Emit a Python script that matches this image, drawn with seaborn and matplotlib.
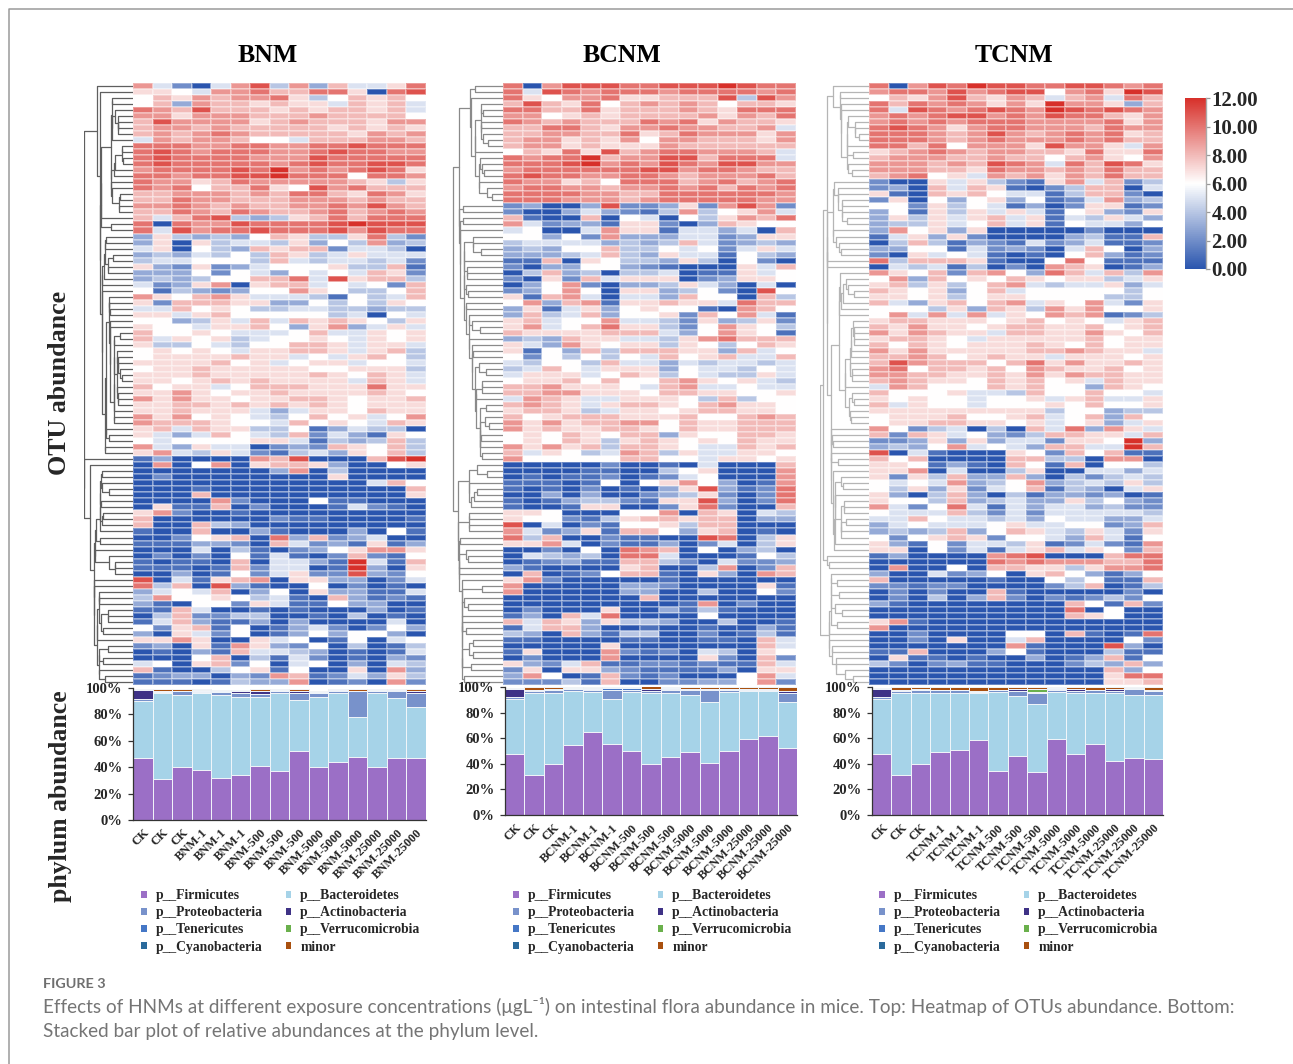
import numpy as np
import pandas as pd
import matplotlib
matplotlib.use('Agg')
import matplotlib.pyplot as plt
from matplotlib.colors import LinearSegmentedColormap
from matplotlib.lines import Line2D
from matplotlib.patches import Patch
import seaborn as sns

sns.set_style('white')
serif = ['Liberation Serif', 'DejaVu Serif']
plt.rcParams['font.family'] = serif

# heatmap cells, one hex digit per cell, 0 to c = abundance 0 to 12
bnm_rows = [
    "95205 9b493 8557a", "77659 9a88a a70ab", "68798 99a74 68786", "68398 87877 58785", "a98b8 88787 88785",
    "99799 98889 88886", "8b999 97898 88799", "89989 88888 78787", "8989a 98888 87989", "59899 86658 88998",
    "aaa99 aa99a abaaa", "aba9a aa99a baa99", "abaaa a999b aaaaa", "abaaa aa9ab aabba", "9aaaa bac9a 9aba7",
    "aa9aa bbcaa a6aa9", "a9978 a9999 98747", "a9a68 8a76b 9a888", "88999 898aa 87a97", "88a99 88899 98988",
    "99a98 98899 a9b98", "88a98 a9889 a89a9", "858ab 43478 a8aaa", "a0a99 baaaa bcbbb", "a5b9a abaaa b9baa",
    "37434 36874 47a42", "37074 55473 64934", "57064 38788 25540", "34354 64874 57555", "45566 64854 55452",
    "73272 35666 74481", "33362 65365 65872", "34346 688a5 b7884", "52379 07885 65628", "61432 36697 64468",
    "97689 75554 16458", "72888 77336 46476", "55867 64455 44344", "77578 66666 45065", "66347 58587 87647",
    "76657 78637 93575", "86676 55568 55767", "85767 45667 65767", "74465 46688 75775", "67676 57788 75784",
    "67777 87756 57864", "77778 67567 75665", "67787 77776 67774", "77787 77778 76875", "77678 78777 75875",
    "86775 68887 77a77", "77976 77877 77876", "97977 67788 76778", "77887 87878 76777", "77877 75357 76877",
    "97967 65468 67569", "98887 66586 76587", "78587 74461 35440", "75358 65482 53176", "65666 67751 43484",
    "95375 50232 87684", "79547 52145 37684", "13000 098b0 008bc", "09069 07887 30067", "00000 00390 40000",
    "02000 00000 70000", "00000 00000 00586", "00010 00000 00008", "00080 00000 00007", "00009 20006 11000",
    "07118 02000 15210", "79200 10000 00000", "80000 00211 00001", "80084 30000 00000", "10080 03100 03061",
    "00267 80a38 23500", "11133 20852 31713", "00050 41023 67997", "02020 61510 28216", "10110 80553 1c518",
    "11101 82550 1c307", "00301 62572 2b326", "b0517 89077 33025", "a480b 31006 02010", "35658 03607 33115",
    "49667 64510 83121", "31066 27511 63300", "11850 01010 00301", "04822 44001 04010", "15831 13030 00050",
    "62781 60135 20263", "30752 60136 36630", "77970 07560 16056", "23071 97326 04014", "01031 85543 01015",
    "00068 04152 01032", "56078 26056 03054", "81004 67160 07093", "12330 32981 25374", "11101 43390 12092",
]
bcnm_rows = [
    "a09bb baabb bcbaa", "a5ba9 aaa9a aaa9a", "a7699 a7788 8b4b9", "8b87a 68989 86887", "aa88a 78889 87aaa",
    "99678 78888 9798a", "a9898 88a9a 79887", "88aa8 799a9 98895", "88998 8a78a 99979", "89978 79699 88879",
    "89978 77798 88888", "687a7 b89aa 99985", "a9aac 899bb 8aaa5", "aaabc 9a9ba 9bb99", "9aaaa aabb9 aa988",
    "abaa9 9aa98 999a8", "a9978 6aaa8 9a89a", "9aa99 899a9 a8a9a", "aaaa9 988aa aaaa9", "aaa99 989aa aaa99",
    "23003 b2237 29b92", "20035 32149 46795", "81008 06506 4798a", "95233 17720 38766", "56005 97715 53508",
    "66362 93335 52377", "45555 34348 52343", "34366 84465 62575", "33345 84375 51643", "11807 64437 40620",
    "20336 63210 00758", "04834 04450 11756", "20728 57770 23776", "03692 03347 53050", "23696 07734 620b6",
    "71895 05538 66084", "69389 17787 75a88", "37157 36766 10986", "38458 36672 86951", "78566 95542 73472",
    "79568 a7742 69764", "87777 88853 69761", "34387 75547 9a888", "75397 67747 64687", "71638 48887 73856",
    "62646 46586 78558", "54664 85535 45545", "45865 77736 55465", "57775 68746 54475", "67786 86689 76754",
    "88977 76589 55655", "88997 77688 77667", "59875 57776 48466", "89875 78876 89776", "78874 57767 88776",
    "86788 87778 66898", "97978 89968 77888", "97877 88768 77888", "67687 68837 66887", "67687 47876 76877",
    "97978 48876 55878", "85764 59847 55776", "96666 68866 57767", "00000 20010 50008", "00001 10046 70009",
    "01011 20125 60009", "11101 60679 63019", "10102 01037 b312a", "00303 00234 7202a", "10134 42177 b302a",
    "10017 70027 a2008", "77600 06690 87054", "76621 47887 88033", "b0502 16674 88000", "95237 18863 78010",
    "a4800 21100 ba047", "77950 21130 25047", "00206 0a980 60340", "05434 0aa50 00164", "01231 18842 05223",
    "31000 07800 49028", "08012 68810 73098", "79200 00010 00000", "90000 03320 00071", "90000 03300 40062",
    "00000 00800 00000", "00000 00001 90200", "02000 70031 41000", "13085 a0000 60000", "85873 74430 04001",
    "15883 00100 10031", "43083 14400 20141", "11000 01100 11085", "00000 70000 00085", "17000 92120 54076",
    "02000 90000 72082", "73258 11221 21185", "27077 32111 13077", "39601 82120 00695", "22241 80022 33692",
]
tcnm_rows = [
    "a09ba cbbaa bba9a", "9aa9b 9abb6 9a7cb", "6879b 87985 895a8", "a8a9a 9797c 99738", "a5ba9 aba9c baba9",
    "9a9ab b9a9b aa879", "9a9a9 aaa99 99a79", "aba97 9aa99 98a99", "aaa98 9b989 a9a78", "aaa98 9a999 a9a88",
    "aa8a6 9997b 99759", "789a9 89988 7a77a", "89998 89886 89769", "99989 8ba95 a8ba7", "99988 7a998 98a88",
    "89a67 59897 98a88", "20075 74217 95824", "23085 87102 48805", "71087 86551 48820", "27063 67361 25934",
    "66274 65130 27712", "36174 75751 67327", "37475 78571 54753", "34475 68571 65536", "39673 70000 02000",
    "15737 20000 34118", "04841 32152 35112", "33661 52320 58603", "20756 51010 68312", "a4888 71006 a6111",
    "05451 40209 87013", "97682 8963a 85849", "69386 76876 77457", "78474 68954 55735", "87673 68566 66646",
    "77674 67766 66446", "85378 68957 69527", "66647 38749 79667", "69595 95769 89124", "78877 76786 76578",
    "87977 67887 78678", "97987 75887 79768", "78876 57777 78677", "86876 77787 68677", "97977 77788 98775",
    "88986 78775 77767", "8b988 868a7 97787", "9a688 78698 77867", "99887 78797 98877", "89877 68786 75877",
    "59866 68786 63876", "86667 55486 68665", "76766 56675 78557", "85766 56667 68667", "77777 77774 66344",
    "67778 66785 68386", "67788 77675 67357", "96245 04085 a3975", "82875 63248 87758", "22373 73552 776c3",
    "34369 56538 855c8", "b0510 00762 86811", "86800 00884 40990", "77613 10861 80664", "77905 00470 05535",
    "72748 33830 42454", "65659 34693 45474", "64737 25681 43057", "73048 30413 32301", "76648 34533 74632",
    "9526a 51535 53422", "65558 42525 55554", "55865 54536 55335", "35655 56755 66238", "34348 36875 47527",
    "62678 72665 38516", "73162 55471 25219", "77062 51578 57628", "13000 09ab0 008aa", "00000 0a9a9 9988a",
    "09006 08877 47 99a", "30052 36078 63136", "80000 01006 46118", "22122 00002 48014", "02020 08100 00020",
    "02040 38202 12426", "31000 00000 86182", "00000 00000 a0600", "00000 00000 87600", "79100 00000 00000",
    "90000 00000 00000", "00200 00660 8101a", "00207 00580 00062", "00000 00910 00b30", "11800 03610 00411",
    "07110 10030 13816", "42023 11000 24383", "00000 00000 00836", "00000 00000 007aa", "00000 00000 00778",
]

bnm_labels = ['CK'] * 3 + ['BNM-1'] * 3 + ['BNM-500'] * 3 + ['BNM-5000'] * 3 + ['BNM-25000'] * 3
bcnm_labels = ['CK'] * 3 + ['BCNM-1'] * 3 + ['BCNM-500'] * 3 + ['BCNM-5000'] * 3 + ['BCNM-25000'] * 3
tcnm_labels = ['CK'] * 3 + ['TCNM-1'] * 3 + ['TCNM-500'] * 3 + ['TCNM-5000'] * 3 + ['TCNM-25000'] * 3

phyla = ['p__Firmicutes', 'p__Bacteroidetes', 'p__Proteobacteria', 'p__Actinobacteria',
         'p__Tenericutes', 'p__Verrucomicrobia', 'p__Cyanobacteria', 'minor']
phyla_colors = ['#9b6fc6', '#a6d3e8', '#7892cb', '#3f3286', '#4577c6', '#6ab04c', '#2a6a9c', '#a9500f']

# percent per phylum, same order as phyla
bnm_firm = [47, 31, 40, 38, 32, 34, 41, 37, 52, 40, 44, 48, 40, 47, 47]
bnm_bact = [43, 65, 54.5, 58, 62.5, 59, 52.5, 59, 39, 53.5, 52.5, 30, 56, 45.5, 38.5]
bnm_prot = [2, 1, 3, 0.5, 2.5, 3.5, 2, 1.5, 5.5, 2.5, 1.5, 19.5, 1.5, 5.5, 11]
bnm_acti = [6.5, 0.3, 0.3, 0.5, 0.3, 1, 2, 0.5, 1, 0.5, 0.2, 0.2, 0.5, 0.2, 1]
bnm_tene = [0.1, 0.1, 0.1, 1, 0.1, 0.1, 0.1, 0.1, 0.1, 0.1, 0.1, 0.1, 0.1, 0.1, 0.1]
bnm_verr = [0.1, 0.1, 0.1, 0.1, 0.1, 0.1, 0.1, 0.1, 0.1, 0.1, 0.1, 0.1, 0.1, 0.1, 0.1]
bnm_cyan = [0.1, 0.1, 0.1, 0.1, 0.1, 0.1, 0.1, 0.1, 0.1, 0.1, 0.1, 0.1, 0.1, 0.1, 0.1]
bnm_mino = [0.8, 1.5, 0.9, 0.8, 1, 1, 1.1, 1.1, 1.2, 1, 0.9, 0.9, 0.7, 0.9, 1.2]

bcnm_firm = [47.5, 31, 40, 55, 65, 55.5, 50, 39.5, 45, 49, 41, 50, 59, 62, 52]
bcnm_bact = [43, 64.5, 55, 42, 31, 35.5, 46, 55.5, 50.5, 45, 47, 46, 38, 35, 36]
bcnm_prot = [1.5, 1.5, 2.5, 1.5, 1.5, 6.5, 1.5, 2, 2.5, 4, 9.5, 1.5, 1, 1, 7]
bcnm_acti = [6.5, 0.3, 0.3, 0.2, 1, 0.2, 0.3, 1.5, 0.2, 0.3, 1, 0.5, 0.2, 0.2, 1.5]
bcnm_tene = [0.1, 0.1, 0.1, 0.1, 0.2, 1.3, 1.2, 0.1, 1.1, 0.1, 0.1, 0.1, 0.1, 0.1, 0.2]
bcnm_verr = [0.1, 0.1, 0.1, 0.1, 0.1, 0.1, 0.1, 0.1, 0.1, 0.1, 0.1, 0.1, 0.1, 0.1, 0.1]
bcnm_cyan = [0.1, 0.1, 0.1, 0.1, 0.1, 0.1, 0.1, 0.1, 0.1, 0.1, 0.1, 0.1, 0.1, 0.1, 0.1]
bcnm_mino = [0.7, 2.4, 1.9, 0.9, 1, 0.8, 0.8, 1.6, 0.5, 1.4, 1.2, 1.6, 1.5, 1.5, 3]

tcnm_firm = [47.5, 31, 40, 49, 51, 58.5, 34.5, 46, 33.5, 59, 48, 55.5, 42, 44.5, 44]
tcnm_bact = [43, 64.5, 55, 46.5, 44, 37, 61.5, 47, 53.5, 37, 47, 40, 53.5, 49, 50]
tcnm_prot = [1.5, 1.5, 2.5, 2, 2.5, 0.5, 1.5, 4, 8, 2, 2, 2, 1.5, 5, 2.5]
tcnm_acti = [6.5, 0.3, 0.3, 0.1, 0.1, 0.2, 0.2, 1.5, 1, 0.2, 1.5, 0.2, 1.5, 0.1, 0.5]
tcnm_tene = [0.1, 0.1, 0.1, 0.1, 0.1, 0.1, 0.1, 0.1, 0.1, 1, 0.1, 0.1, 0.1, 0.1, 0.1]
tcnm_verr = [0.1, 0.1, 0.1, 0.1, 0.1, 0.1, 0.1, 0.1, 2, 0.1, 0.1, 0.1, 0.1, 0.1, 0.1]
tcnm_cyan = [0.1, 0.1, 0.1, 0.1, 0.1, 0.1, 0.1, 0.1, 0.1, 0.1, 0.1, 0.1, 0.1, 0.1, 0.1]
tcnm_mino = [0.7, 2.4, 1.9, 1.9, 2, 3.5, 1.9, 1.2, 1.6, 0.6, 1.1, 1.9, 1.1, 1, 2.7]

W, H = 1293, 1064
colbar_ticks = [0, 2, 4, 6, 8, 10, 12]
otu_cmap = LinearSegmentedColormap.from_list('otu', ['#2a55ae', '#ffffff', '#d7302a'])


def px_axes(x0, y0, x1, y1):
    return fig.add_axes([x0 / W, 1 - y1 / H, (x1 - x0) / W, (y1 - y0) / H])


def to_matrix(rows):
    return np.array([[int(c, 16) for c in ''.join(r.split())] for r in rows], dtype=float)


def draw_tree(ax, mat, color):
    # merge neighbouring rows only, so the tree keeps the order of the heatmap
    nodes = [{'y': i + 0.5, 'h': 0.0, 'n': 1, 'v': mat[i]} for i in range(len(mat))]
    while len(nodes) > 1:
        d = [np.linalg.norm(nodes[i]['v'] - nodes[i + 1]['v']) for i in range(len(nodes) - 1)]
        i = int(np.argmin(d))
        a, b = nodes[i], nodes[i + 1]
        h = max(d[i], a['h'], b['h'])
        ax.plot(np.array([a['h'], h, h, b['h']]) ** 0.7, [a['y'], a['y'], b['y'], b['y']], color=color, lw=0.9)
        n = a['n'] + b['n']
        nodes[i:i + 2] = [{'y': (a['y'] + b['y']) / 2, 'h': h, 'n': n,
                           'v': (a['v'] * a['n'] + b['v'] * b['n']) / n}]
    ax.set_xlim(nodes[0]['h'] ** 0.7 * 1.01, 0)
    ax.set_ylim(len(mat), 0)
    ax.axis('off')


def draw_bars(ax, labels, series):
    tops = np.cumsum(np.array(series, dtype=float), axis=0)
    pos = list(range(len(labels)))
    for k in range(len(phyla) - 1, -1, -1):
        sns.barplot(x=pos, y=tops[k], color=phyla_colors[k], saturation=1, width=1,
                    edgecolor='#f2f6fa', linewidth=0.7, ax=ax)
    ax.set_xlim(-0.5, len(labels) - 0.5)
    ax.set_ylim(0, 100)
    ax.set_yticks(range(0, 101, 20))
    ax.set_yticklabels([str(v) + '%' for v in range(0, 101, 20)], fontsize=10.5, fontweight='bold')
    ax.set_xticks(pos)
    ax.set_xticklabels(labels, rotation=45, ha='right', rotation_mode='anchor', fontsize=9, fontweight='bold')
    ax.set_xticks(np.arange(-0.5, len(labels)), minor=True)
    ax.tick_params(axis='x', which='major', length=0, pad=5)
    ax.tick_params(axis='x', which='minor', length=3.5, width=0.9, color='#333333')
    ax.tick_params(axis='y', length=3.5, width=0.9, color='#333333', left=True, pad=4)
    ax.set_xlabel('')
    ax.set_ylabel('')
    for s in ['top', 'right']:
        ax.spines[s].set_visible(False)
    for s in ['left', 'bottom']:
        ax.spines[s].set_color('#333333')
        ax.spines[s].set_linewidth(0.9)


def draw_legend(ax, x0):
    handles = [Patch(facecolor=c, edgecolor='none') for c in phyla_colors]
    order = [0, 2, 4, 6, 1, 3, 5, 7]
    ax.legend([handles[i] for i in order], [phyla[i] for i in order], ncol=2, frameon=False,
              loc='upper left', bbox_to_anchor=(x0 / W, 1 - 889 / H), bbox_transform=fig.transFigure,
              borderpad=0, borderaxespad=0, handlelength=0.42, handleheight=0.42, handletextpad=0.65,
              labelspacing=0.31, columnspacing=1.7,
              prop={'family': serif, 'weight': 'bold', 'size': 9.8})


fig = plt.figure(figsize=(W / 100, H / 100), dpi=100)
fig.patch.set_facecolor('white')

panels = [
    ('BNM', bnm_rows, bnm_labels, [bnm_firm, bnm_bact, bnm_prot, bnm_acti, bnm_tene, bnm_verr, bnm_cyan, bnm_mino],
     133, 426, 84, 688, 820, '#5f5f5f', 268, 141),
    ('BCNM', bcnm_rows, bcnm_labels, [bcnm_firm, bcnm_bact, bcnm_prot, bcnm_acti, bcnm_tene, bcnm_verr, bcnm_cyan, bcnm_mino],
     503, 796, 452, 687, 815, '#8a8a8a', 622, 513),
    ('TCNM', tcnm_rows, tcnm_labels, [tcnm_firm, tcnm_bact, tcnm_prot, tcnm_acti, tcnm_tene, tcnm_verr, tcnm_cyan, tcnm_mino],
     869, 1163, 820, 687, 815, '#b5b5b5', 1014, 879),
]

cax = px_axes(1185, 98, 1206, 269)
for i, (name, rows, labels, series, x0, x1, tx, by0, by1, tree_col, cx, lx) in enumerate(panels):
    mat = to_matrix(rows)
    hm = px_axes(x0, 83, x1, 685)
    sns.heatmap(pd.DataFrame(mat), ax=hm, cmap=otu_cmap, vmin=0, vmax=12, center=6,
                linewidths=0.2, linecolor=(1, 1, 1, 0.3), xticklabels=False, yticklabels=False,
                cbar=i == 0, cbar_ax=cax if i == 0 else None,
                cbar_kws={'ticks': colbar_ticks, 'format': '%.2f'} if i == 0 else None)
    draw_tree(px_axes(tx, 83, x0, 685), mat, tree_col)
    bar_x0 = x0 + 2 if i == 1 else x0 + 3 if i == 2 else x0
    bars = px_axes(bar_x0, by0, x1 + 1 if i == 1 else x1, by1)
    draw_bars(bars, labels, series)
    draw_legend(bars, lx)
    fig.text(cx / W, 1 - 55 / H, name, ha='center', va='center', fontsize=18.5, fontweight='bold', color='black')

cax.tick_params(axis='y', labelsize=15, length=3, width=0.9, color='#999999', pad=1, right=True)
for t in cax.get_yticklabels():
    t.set_fontweight('bold')
cax.spines['right'].set_visible(True)
cax.spines['right'].set_color('#aaaaaa')
cax.spines['right'].set_linewidth(1)

fig.text(60 / W, 1 - 383 / H, 'OTU abundance', rotation=90, ha='center', va='center', fontsize=18.7, fontweight='bold')
fig.text(60 / W, 1 - 796 / H, 'phylum abundance', rotation=90, ha='center', va='center', fontsize=18.5, fontweight='bold')

# page frame of the article figure
fig.add_artist(Line2D([9 / W, 9 / W, 1], [0, 1 - 9 / H, 1 - 9 / H], color='#9a9a9a', lw=1.1))

cap_font = ['Lato', 'DejaVu Sans']
fig.text(43 / W, 1 - 984 / H, 'FIGURE 3', family=cap_font, fontsize=10.4, color='#6f6f6f', va='center', fontweight='bold')
fig.text(43 / W, 1 - 1007 / H, 'Effects of HNMs at different exposure concentrations (\u03bcgL\u207b\u00b9) on intestinal flora abundance in mice. Top: Heatmap of OTUs abundance. Bottom:',
         family=cap_font, fontsize=13.6, color='#757575', va='center')
fig.text(43 / W, 1 - 1031 / H, 'Stacked bar plot of relative abundances at the phylum level.',
         family=cap_font, fontsize=13.6, color='#757575', va='center')

fig.savefig('out.png', dpi=100, facecolor='white')
